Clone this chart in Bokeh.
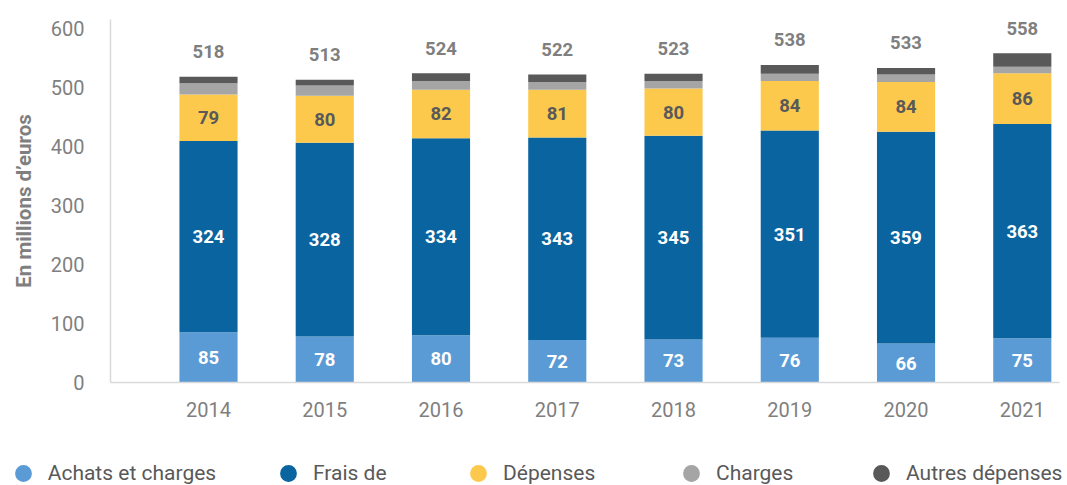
from bokeh.plotting import figure
from bokeh.layouts import column
from bokeh.models import ColumnDataSource, Range1d, FixedTicker, Legend, LegendItem
from bokeh.core.properties import value
from bokeh.embed import file_html
from bokeh.resources import INLINE

years = ["2014", "2015", "2016", "2017", "2018", "2019", "2020", "2021"]
achats = [85, 78, 80, 72, 73, 76, 66, 75]
frais = [324, 328, 334, 343, 345, 351, 359, 363]
depenses = [79, 80, 82, 81, 80, 84, 84, 86]
charges = [19, 17, 15, 13, 13, 12, 13, 11]
autres = [11, 10, 13, 13, 12, 15, 11, 23]
totals = [518, 513, 524, 522, 523, 538, 533, 558]

series_names = ["Achats et charges", "Frais de", "Dépenses", "Charges", "Autres dépenses"]
series_vals = [achats, frais, depenses, charges, autres]
colors = ["#5B9BD5", "#0A64A0", "#FCC94D", "#A5A5A5", "#595959"]
label_colors = ["white", "white", "#595959", None, None]

FONT = "Roboto"
x = list(range(len(years)))

p = figure(width=1067, height=428, output_backend="svg", toolbar_location=None,
           x_range=Range1d(-0.843, 7.32), y_range=Range1d(0, 615),
           min_border_left=110, min_border_right=8, min_border_top=19, min_border_bottom=46)
p.outline_line_color = None
p.xgrid.grid_line_color = None
p.ygrid.grid_line_color = None

bottom = [0] * len(years)
for name, vals, col, lc in zip(series_names, series_vals, colors, label_colors):
    top = [b + v for b, v in zip(bottom, vals)]
    src = ColumnDataSource(dict(x=x, bottom=bottom, top=top,
                                mid=[(b + t) / 2 for b, t in zip(bottom, top)],
                                lab=[str(v) for v in vals]))
    p.vbar(x="x", bottom="bottom", top="top", width=0.5, source=src,
           fill_color=col, line_color=None)
    if lc is not None:
        p.text(x="x", y="mid", text="lab", source=src, text_align="center",
               text_baseline="middle", text_color=lc, text_font=value(FONT),
               text_font_style="bold", text_font_size="18.5px")
    bottom = top

tsrc = ColumnDataSource(dict(x=x, y=totals, lab=[str(t) for t in totals]))
p.text(x="x", y="y", text="lab", source=tsrc, text_align="center",
       text_baseline="middle", y_offset=-25, text_color="#7F7F7F",
       text_font=value(FONT), text_font_style="bold", text_font_size="18.5px")

# axes
p.xaxis.ticker = FixedTicker(ticks=x)
p.xaxis.major_label_overrides = {i: y for i, y in zip(x, years)}
p.yaxis.ticker = FixedTicker(ticks=[0, 100, 200, 300, 400, 500, 600])
for ax in (p.xaxis[0], p.yaxis[0]):
    ax.major_tick_line_color = None
    ax.minor_tick_line_color = None
    ax.axis_line_color = "#D9D9D9"
    ax.axis_line_width = 1.5
    ax.major_label_text_color = "#7F7F7F"
    ax.major_label_text_font = FONT
    ax.major_label_text_font_size = "20px"
p.xaxis.major_label_standoff = 13
p.yaxis.major_label_standoff = 20
p.yaxis.axis_label = "En millions d’euros"
p.yaxis.axis_label_text_font = FONT
p.yaxis.axis_label_text_font_style = "bold"
p.yaxis.axis_label_text_font_size = "20.5px"
p.yaxis.axis_label_text_color = "#7F7F7F"
p.yaxis.axis_label_standoff = 12

# legend strip (separate small figure so the legend is not clipped)
lg = figure(width=1067, height=57, output_backend="svg", toolbar_location=None,
            x_range=Range1d(0, 1), y_range=Range1d(0, 1),
            x_axis_location=None, y_axis_location=None, min_border=0)
lg.frame_align = False
lg.outline_line_color = None
lg.xgrid.grid_line_color = None
lg.ygrid.grid_line_color = None

leg_x = [1.7, 267, 457, 670, 860]
for name, vals, col, lx in zip(series_names, series_vals, colors, leg_x):
    # proxy marker for the legend; its points fall outside this strip's range
    r = lg.scatter(x=x, y=vals, marker="circle", fill_color=col, line_color=None)
    leg = Legend(items=[LegendItem(label=name, renderers=[r])], location=(lx, -9),
                 glyph_width=42, glyph_height=42, label_standoff=4, padding=0, margin=0,
                 border_line_color=None, background_fill_alpha=0,
                 label_text_font=FONT, label_text_font_size="21px",
                 label_text_color="#595959")
    lg.add_layout(leg, "center")

layout = column(p, lg, spacing=0)
open("out.html", "w").write(file_html(layout, INLINE))
